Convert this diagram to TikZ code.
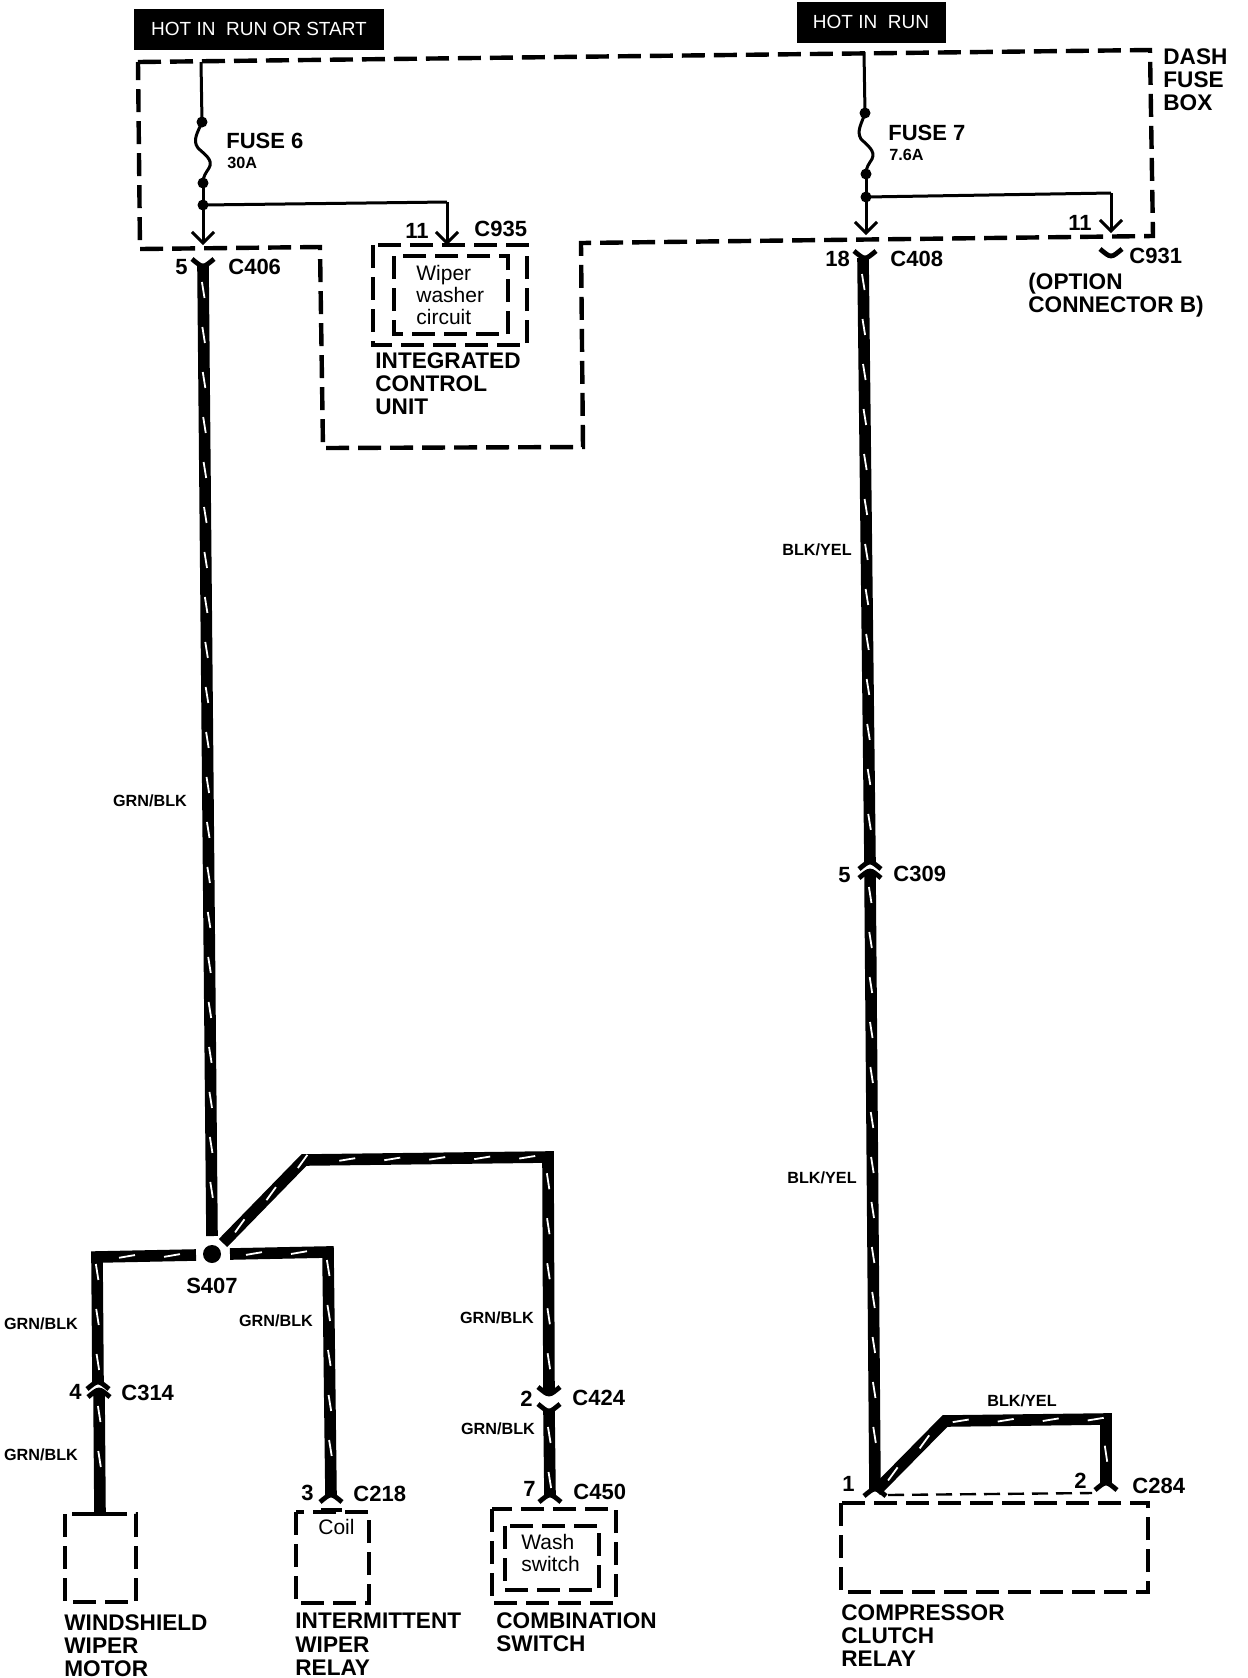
\documentclass[tikz,border=0pt]{standalone}
\usepackage{fontspec}
\setmainfont{Liberation Sans}
\usetikzlibrary{arrows.meta,decorations.markings}
\tikzset{
    fusebox/.style={line width=2.2pt,dash pattern=on 11.5pt off 4.5pt},
    thinbox/.style={line width=1.2pt,dash pattern=on 8pt off 4pt},
    thinwire/.style={line width=1.5pt},
    tipwire/.style={line width=1.5pt,-{Straight Barb[length=5.5pt,width=11pt]}},
    capline/.style={line width=2.4pt},
    wire/.style={line width=5.8pt,postaction={decorate},decoration={markings,
        mark=between positions 12pt and -6pt step 22.5pt with {\draw[white,line width=0.9pt] (-4pt,-0.6pt) -- (4pt,0.6pt);}}},
    joint/.style={circle,fill=black,inner sep=0pt,minimum size=5.5pt},
    hotbox/.style={fill=black,text=white,inner sep=0pt,font=\fontsize{9.5}{11}\selectfont},
    partname/.style={anchor=north west,align=left,inner sep=0pt,font=\fontsize{11.3}{11.6}\selectfont\bfseries},
    inbox/.style={anchor=north west,align=left,inner sep=0pt,font=\fontsize{10.5}{11}\selectfont},
    conlabel/.style={anchor=west,inner sep=0pt,font=\fontsize{11}{12}\selectfont\bfseries},
    wirelabel/.style={inner sep=0pt,font=\fontsize{8.1}{10}\selectfont\bfseries},
    capcup/.pic={\draw[capline] (-11,-7) .. controls (-6,-3) and (-3,0) .. (0,0) .. controls (3,0) and (6,-3) .. (11,-7);},
    capcap/.pic={\draw[capline] (-11,7) .. controls (-6,3) and (-3,0) .. (0,0) .. controls (3,0) and (6,3) .. (11,7);}
}

\begin{document}
\begin{tikzpicture}[x=0.5pt,y=-0.5pt]
    \useasboundingbox (0,0) rectangle (1248,1678);

    % supply boxes
    \node[hotbox,minimum width=125pt,minimum height=20.5pt] (hotA) at (259,29) {HOT IN\ \ RUN OR START};
    \node[hotbox,minimum width=74.5pt,minimum height=20.5pt] (hotB) at (871,22) {HOT IN\ \ RUN};

    % dash fuse box
    \draw[fusebox] (138,62) -- (1150,50) -- (1153,236) -- (581,243) -- (583,447) -- (323,448) -- (320,247) -- (140,249) -- cycle;
    \node[partname] (dash) at (1163,48) {DASH\\FUSE\\BOX};

    % fuse 6 side
    \coordinate (inA) at (201,62);
    \node[joint] (jA1) at (202,122) {};
    \node[joint] (jA2) at (203,183) {};
    \node[joint] (jA3) at (203,205) {};
    \coordinate (c406top) at (203,245);
    \coordinate (c935top) at (447,245);
    \coordinate (c935side) at (447,202);
    \draw[thinwire] (inA) -- (jA1.center);
    \draw[thinwire] (jA1.center) .. controls (198,132) and (192,140) .. (198,148) .. controls (204,154) and (214,160) .. (209,168) .. controls (206,173) and (203,176) .. (jA2.center);
    \draw[thinwire] (jA2.center) -- (jA3.center);
    \draw[tipwire] (jA3.center) -- (c406top);
    \draw[thinwire] (jA3.center) -- (c935side);
    \draw[tipwire] (c935side) -- (c935top);
    \node[conlabel] (fuse6) at (226,141) {FUSE 6};
    \node[wirelabel,anchor=west] (amp6) at (227,163) {30A};
    \node[conlabel] (pin5) at (175,267) {5};
    \node[conlabel] (c406) at (228,267) {C406};
    \node[conlabel] (pin11a) at (405,231) {11};
    \node[conlabel] (c935) at (474,229) {C935};

    % integrated control unit
    \draw[fusebox] (373,245) rectangle (527,345);
    \draw[fusebox] (394,256) rectangle (508,334);
    \node[inbox] (wiper) at (416,265) {Wiper\\washer\\circuit};
    \node[partname] (icu) at (375,352) {INTEGRATED\\CONTROL\\UNIT};

    % fuse 7 side
    \coordinate (inB) at (864,52);
    \node[joint] (jB1) at (865,113) {};
    \node[joint] (jB2) at (866,174) {};
    \node[joint] (jB3) at (866,197) {};
    \coordinate (c408top) at (866,235);
    \coordinate (c931top) at (1111,233);
    \coordinate (c931side) at (1111,193);
    \draw[thinwire] (inB) -- (jB1.center);
    \draw[thinwire] (jB1.center) .. controls (862,123) and (856,131) .. (861,139) .. controls (867,145) and (876,151) .. (872,159) .. controls (869,164) and (866,167) .. (jB2.center);
    \draw[thinwire] (jB2.center) -- (jB3.center);
    \draw[tipwire] (jB3.center) -- (c408top);
    \draw[thinwire] (jB3.center) -- (c931side);
    \draw[tipwire] (c931side) -- (c931top);
    \node[conlabel] (fuse7) at (888,133) {FUSE 7};
    \node[wirelabel,anchor=west] (amp7) at (889,155) {7.6A};
    \node[conlabel] (pin18) at (825,259) {18};
    \node[conlabel] (c408) at (890,259) {C408};
    \node[conlabel] (pin11b) at (1068,223) {11};
    \node[conlabel] (c931) at (1129,256) {C931};
    \node[partname] (option) at (1028,273) {(OPTION\\CONNECTOR B)};
    \pic at (1111,256) {capcup};

    % left harness
    \coordinate (a1) at (203,266);
    \coordinate (a2) at (212,1236);
    \node[circle,fill=black,inner sep=0pt,minimum size=9pt] (s407) at (212,1254) {};
    \coordinate (b1) at (223,1243);
    \coordinate (b2) at (304,1160);
    \coordinate (b3) at (548,1157);
    \coordinate (b4) at (549,1394);
    \coordinate (d1) at (196,1255);
    \coordinate (d2) at (97,1257);
    \coordinate (d3) at (98,1382);
    \coordinate (d4) at (99,1390);
    \coordinate (d5) at (100,1514);
    \coordinate (e1) at (230,1254);
    \coordinate (e2) at (328,1252);
    \coordinate (e3) at (331,1495);
    \coordinate (f1) at (549,1411);
    \coordinate (f2) at (550,1495);
    \draw[wire] (a1) -- (a2);
    \draw[wire] (b1) -- (b2) -- (b3) -- (b4);
    \draw[wire] (d1) -- (d2) -- (d3);
    \draw[wire] (d4) -- (d5);
    \draw[wire] (e1) -- (e2) -- (e3);
    \draw[wire] (f1) -- (f2);
    \pic at (a1) {capcup};
    \pic at (d3) {capcap};
    \pic at (d4) {capcap};
    \pic at (b4) {capcup};
    \pic at (f1) {capcup};
    \pic at (e3) {capcap};
    \pic at (f2) {capcap};
    \draw[capline] (90,1514) -- (112,1514);
    \draw[capline] (321,1510) -- (342,1510);
    \node[conlabel,anchor=center] (s407t) at (212,1286) {S407};
    \node[conlabel] (pin4) at (69,1392) {4};
    \node[conlabel] (c314) at (121,1393) {C314};
    \node[conlabel] (pin3) at (301,1493) {3};
    \node[conlabel] (c218) at (353,1494) {C218};
    \node[conlabel] (pin2) at (520,1399) {2};
    \node[conlabel] (c424) at (572,1398) {C424};
    \node[conlabel] (pin7) at (523,1489) {7};
    \node[conlabel] (c450) at (573,1492) {C450};
    \foreach[count=\i] \x/\y in {150/801,41/1324,41/1455,276/1321,497/1318,498/1429} {
        \node[wirelabel] (grn\i) at (\x,\y) {GRN/BLK};
    }

    % left loads
    \draw[fusebox] (65,1514) rectangle (136,1602);
    \draw[fusebox] (296,1512) rectangle (369,1603);
    \draw[fusebox] (492,1509) rectangle (616,1603);
    \draw[fusebox] (505,1526) rectangle (599,1590);
    \node[inbox] (coil) at (318,1519) {Coil};
    \node[inbox] (wash) at (521,1534) {Wash\\switch};
    \node[partname] (motor) at (64,1614) {WINDSHIELD\\WIPER\\MOTOR};
    \node[partname] (relayA) at (295,1613) {INTERMITTENT\\WIPER\\RELAY};
    \node[partname] (combo) at (496,1612) {COMBINATION\\SWITCH};

    % right harness
    \coordinate (g1) at (863,258);
    \coordinate (g2) at (870,862);
    \coordinate (g3) at (870,871);
    \coordinate (g4) at (875,1489);
    \coordinate (h1) at (876,1491);
    \coordinate (h2) at (945,1421);
    \coordinate (h3) at (1106,1419);
    \coordinate (h4) at (1106,1483);
    \draw[wire] (g1) -- (g2);
    \draw[wire] (g3) -- (g4);
    \draw[wire] (h1) -- (h2) -- (h3) -- (h4);
    \pic at (865,258) {capcup};
    \pic at (g2) {capcap};
    \pic at (g3) {capcap};
    \pic at (g4) {capcap};
    \pic at (h4) {capcap};
    \node[conlabel] (pin5b) at (838,875) {5};
    \node[conlabel] (c309) at (893,874) {C309};
    \node[conlabel] (pin1) at (842,1484) {1};
    \node[conlabel] (pin2b) at (1074,1481) {2};
    \node[conlabel] (c284) at (1132,1486) {C284};
    \foreach[count=\i] \x/\y in {817/550,822/1178,1022/1401} {
        \node[wirelabel] (blk\i) at (\x,\y) {BLK/YEL};
    }

    % compressor clutch relay
    \draw[fusebox] (841,1503) rectangle (1148,1592);
    \draw[thinbox] (888,1495) -- (1092,1493);
    \node[partname] (relayB) at (841,1604) {COMPRESSOR\\CLUTCH\\RELAY};
\end{tikzpicture}
\end{document}
